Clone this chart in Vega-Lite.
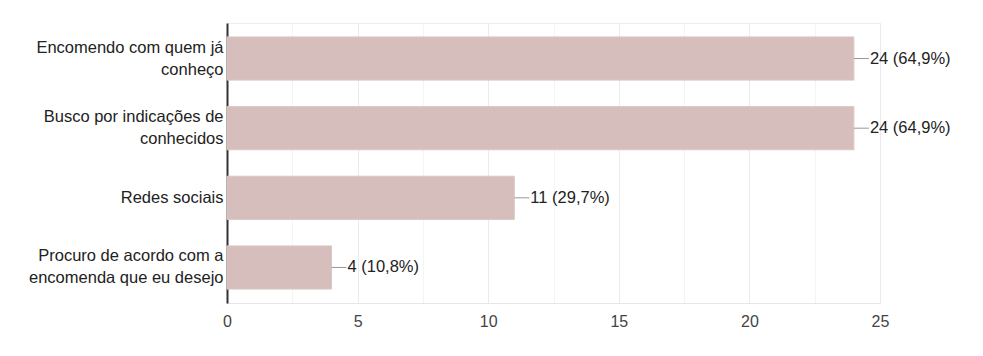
{
  "$schema": "https://vega.github.io/schema/vega-lite/v6.json",
  "autosize": "none",
  "width": 653,
  "height": 280,
  "padding": {"left": 227, "top": 23, "right": 103, "bottom": 53},
  "background": "#ffffff",
  "config": {
    "view": {"stroke": "#ececec", "strokeWidth": 1},
    "font": "Liberation Sans"
  },
  "data": {
    "values": [
      {"label": "Encomendo com quem já\nconheço", "value": 24, "text": "24 (64,9%)"},
      {"label": "Busco por indicações de\nconhecidos", "value": 24, "text": "24 (64,9%)"},
      {"label": "Redes sociais", "value": 11, "text": "11 (29,7%)"},
      {"label": "Procuro de acordo com a\nencomenda que eu desejo", "value": 4, "text": "4 (10,8%)"}
    ]
  },
  "encoding": {
    "y": {
      "field": "label",
      "type": "nominal",
      "sort": null,
      "scale": {"paddingInner": 0.38, "paddingOuter": 0.2},
      "axis": {
        "title": null,
        "ticks": false,
        "domain": true,
        "domainColor": "#333333",
        "domainWidth": 2,
        "labelExpr": "split(datum.value, '\\n')",
        "labelOffset": {"condition": {"test": "indexof(datum.value, '\\n') >= 0", "value": -11}, "value": 0},
        "labelFont": "Liberation Sans",
        "labelFontSize": 16.5,
        "labelColor": "#222222",
        "labelLineHeight": 22,
        "labelPadding": 4,
        "labelLimit": 300
      }
    }
  },
  "layer": [
    {
      "mark": {"type": "bar", "color": "#d5bebb", "stroke": "#dcc8c5", "strokeWidth": 1},
      "encoding": {
        "x": {
          "field": "value",
          "type": "quantitative",
          "scale": {"domain": [0, 25], "nice": false},
          "axis": {
            "title": null,
            "values": [0, 2.5, 5, 7.5, 10, 12.5, 15, 17.5, 20, 22.5, 25],
            "labelExpr": "datum.value % 5 === 0 ? datum.label : ''",
            "ticks": false,
            "domain": true,
            "domainColor": "#e6e6e6",
            "domainWidth": 1,
            "grid": true,
            "gridColor": {"condition": {"test": "datum.value % 5 === 0", "value": "#ebebeb"}, "value": "#f4f4f4"},
            "gridWidth": 1,
            "labelFont": "Liberation Sans",
            "labelFontSize": 16,
            "labelColor": "#444444",
            "labelPadding": 10,
            "labelFlush": false
          }
        }
      }
    },
    {
      "mark": {"type": "rule", "color": "#999999", "strokeWidth": 1, "x2Offset": 15},
      "encoding": {
        "x": {"field": "value", "type": "quantitative"},
        "x2": {"field": "value"}
      }
    },
    {
      "mark": {"type": "text", "align": "left", "baseline": "middle", "dx": 16, "font": "Liberation Sans", "fontSize": 16.5, "color": "#222222"},
      "encoding": {
        "x": {"field": "value", "type": "quantitative"},
        "text": {"field": "text"}
      }
    }
  ]
}
